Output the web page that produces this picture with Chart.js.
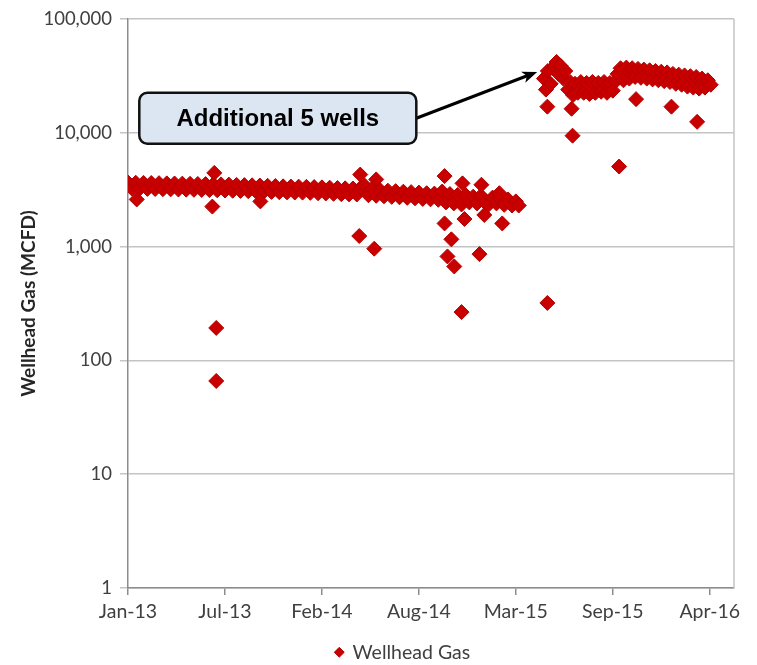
<!DOCTYPE html>
<html>
<head>
<meta charset="utf-8">
<title>Wellhead Gas</title>
<script src="https://cdn.jsdelivr.net/npm/chart.js@4.4.1/dist/chart.umd.min.js"></script>
<style>
  html, body { margin: 0; padding: 0; background: #ffffff; }
  #wrap { width: 757px; height: 665px; position: relative; }
</style>
</head>
<body>
<div id="wrap"><canvas id="gasChart"></canvas></div>
<script>
// x values are days since 1 Jan 2013
const tickDays = [0, 200, 400, 600, 800, 1000, 1200];
const tickLabels = ['Jan-13', 'Jul-13', 'Feb-14', 'Aug-14', 'Mar-15', 'Sep-15', 'Apr-16'];
const yTicks = [1, 10, 100, 1000, 10000, 100000];

// original wells, Jan 2013 - Mar 2015
const earlyDays = [
    0, 8, 16, 24, 32, 40, 48, 56, 64, 72, 80, 88, 96, 104, 112, 120, 128, 136, 144, 152,
    160, 168, 176, 184, 192, 200, 208, 216, 224, 232, 240, 248, 256, 264, 272, 280, 288, 296, 304, 312,
    320, 328, 336, 344, 352, 360, 368, 376, 384, 392, 400, 408, 416, 424, 432, 440, 448, 456, 464, 472,
    480, 488, 496, 504, 512, 520, 528, 536, 544, 552, 560, 568, 576, 584, 592, 600, 608, 616, 624, 632,
    640, 648, 656, 664, 672, 680, 688, 696, 704, 712, 720, 728, 736, 744, 752, 760, 768, 776, 784, 792,
    800, 806
];
const earlyGas = [
    3660, 3240, 3645, 3230, 3635, 3220, 3625, 3210, 3615, 3200, 3600, 3190, 3590, 3180, 3580, 3170, 3565, 3160, 3555, 3150,
    3545, 3140, 3535, 3130, 3525, 3115, 3510, 3100, 3490, 3090, 3475, 3075, 3460, 3060, 3445, 3045, 3425, 3030, 3410, 3015,
    3390, 3000, 3375, 2990, 3370, 2985, 3355, 2970, 3340, 2950, 3320, 2935, 3300, 2915, 3275, 2895, 3255, 2880, 3245, 2875,
    3300, 3450, 2830, 3250, 2800, 3140, 2770, 3105, 2740, 3075, 2715, 3040, 2685, 3015, 2660, 2985, 2630, 2950, 2605, 2925,
    2580, 3050, 2450, 2900, 2400, 2850, 2350, 2850, 2450, 2750, 2400, 2800, 2450, 2350, 2700, 2400, 2650, 2330, 2600, 2300,
    2500, 2300
];

// after the additional 5 wells
const laterDays = [
    858, 862, 866, 872, 878, 884, 888, 892, 898, 902, 908, 912, 918, 922, 928, 934, 940, 946, 952, 958,
    964, 970, 976, 982, 988, 994, 1000, 1006, 1010, 1016, 1022, 1028, 1034, 1040, 1046, 1052, 1058, 1064, 1070, 1076,
    1082, 1088, 1094, 1100, 1106, 1112, 1118, 1124, 1130, 1136, 1142, 1148, 1154, 1160, 1166, 1172, 1178, 1184, 1190, 1196,
    1202
];
const laterGas = [
    30000, 24000, 35000, 27000, 38000, 42000, 33000, 39000, 30000, 35000, 24000, 28000, 21500, 27000, 22500, 28000, 22500, 27500, 22000, 28000,
    22500, 27500, 23000, 28000, 22500, 27500, 23500, 28500, 33000, 37000, 29000, 37500, 30000, 37000, 31000, 36500, 30500, 36000, 30000, 35500,
    29500, 35000, 29000, 34500, 28500, 34000, 28000, 33000, 27000, 32500, 26500, 32000, 25500, 31500, 25000, 31000, 24500, 30000, 25000, 29000,
    26500
];

// scattered low / high readings
const outlierDays = [18, 174, 178, 182, 182, 273, 477, 479, 508, 512, 653, 653, 659, 667, 673, 688, 690, 694, 725, 729, 735, 766, 772,
    865, 865, 915, 917, 1013, 1048, 1121, 1174];
const outlierGas = [2600, 2250, 4450, 193, 66, 2500, 1240, 4300, 960, 3900, 4170, 1600, 820, 1160, 670, 266, 3600, 1750, 860, 3500, 1900, 2950, 1600,
    17000, 320, 16300, 9450, 5060, 19800, 17000, 12500];

const noteText = 'Additional 5 wells';
const noteBox = { day: 309, gas: 13450 };
const noteArrowTip = { day: 844, gas: 34350 };

const allDays = earlyDays.concat(laterDays, outlierDays);
const allGas = earlyGas.concat(laterGas, outlierGas);

const textColor = '#404040';

const plotExtras = {
    id: 'plotExtras',
    afterLayout(chart) {
        // legend sits a bit right of and below where Chart.js puts it
        const lg = chart.legend;
        lg.left += 36;
        lg.right += 36;
        lg.top += 7;
        lg.bottom += 7;
    },
    beforeDatasetsDraw(chart) {
        const { ctx, chartArea } = chart;
        ctx.save();
        ctx.strokeStyle = '#c4c4c4';
        ctx.lineWidth = 1.5;
        ctx.beginPath();
        ctx.moveTo(chartArea.right, chartArea.top);
        ctx.lineTo(chartArea.right, chartArea.bottom);
        ctx.stroke();
        ctx.restore();
    },
    afterDraw(chart) {
        const { ctx, scales } = chart;
        const cx = scales.x.getPixelForValue(noteBox.day);
        const cy = scales.y.getPixelForValue(noteBox.gas);
        const w = 277, h = 51;
        const left = cx - w / 2, top = cy - h / 2;

        // arrow
        const tx = scales.x.getPixelForValue(noteArrowTip.day);
        const ty = scales.y.getPixelForValue(noteArrowTip.gas);
        const sx = left + w, sy = cy;
        const ang = Math.atan2(ty - sy, tx - sx);
        const c = Math.cos(ang), s = Math.sin(ang);
        ctx.save();
        ctx.strokeStyle = '#000';
        ctx.fillStyle = '#000';
        ctx.lineWidth = 3;
        ctx.beginPath();
        ctx.moveTo(sx, sy);
        ctx.lineTo(tx - 10 * c, ty - 10 * s);
        ctx.stroke();
        ctx.beginPath();
        ctx.moveTo(tx, ty);
        ctx.lineTo(tx - 15 * c + 6 * s, ty - 15 * s - 6 * c);
        ctx.lineTo(tx - 11 * c, ty - 11 * s);
        ctx.lineTo(tx - 15 * c - 6 * s, ty - 15 * s + 6 * c);
        ctx.closePath();
        ctx.fill();

        // box
        ctx.beginPath();
        ctx.roundRect(left, top, w, h, 8);
        ctx.fillStyle = '#dce6f2';
        ctx.fill();
        ctx.lineWidth = 2.5;
        ctx.strokeStyle = '#111';
        ctx.stroke();

        ctx.fillStyle = '#000';
        ctx.font = 'bold 24px "Liberation Sans", Arial, sans-serif';
        ctx.textAlign = 'center';
        ctx.textBaseline = 'middle';
        ctx.fillText(noteText, cx, cy + 1);
        ctx.restore();
    }
};

function renderChart() {
    const el = document.getElementById('gasChart');
    new Chart(el, {
        type: 'scatter',
        data: {
            datasets: [{
                label: 'Wellhead Gas',
                data: allDays.map((d, i) => ({ x: d, y: allGas[i] })),
                pointStyle: 'rectRot',
                pointRadius: 7.5,
                pointHoverRadius: 7.5,
                backgroundColor: '#c80000',
                borderColor: '#b40000',
                borderWidth: 1
            }]
        },
        options: {
            responsive: true,
            maintainAspectRatio: false,
            animation: false,
            layout: { padding: { top: 17, right: 23, bottom: 0, left: 0 } },
            plugins: {
                tooltip: { enabled: false },
                legend: {
                    position: 'bottom',
                    labels: {
                        usePointStyle: true,
                        boxWidth: 7,
                        boxHeight: 7,
                        padding: 3,
                        color: textColor,
                        font: { family: 'Lato', size: 19.5 }
                    }
                }
            },
            scales: {
                x: {
                    type: 'linear',
                    min: 0,
                    max: 1250,
                    afterBuildTicks: s => { s.ticks = tickDays.map(v => ({ value: v })); },
                    afterFit: s => { s.height = 44.5; },
                    ticks: {
                        autoSkip: false,
                        maxRotation: 0,
                        padding: 5,
                        color: textColor,
                        font: { family: 'Lato', size: 19.5 },
                        callback: (v, i) => tickLabels[i]
                    },
                    grid: { drawOnChartArea: false, tickLength: 7, color: '#8c8c8c', lineWidth: 1.5 },
                    border: { color: '#8c8c8c', width: 1.5 }
                },
                y: {
                    type: 'logarithmic',
                    min: 1,
                    max: 100000,
                    afterBuildTicks: s => { s.ticks = yTicks.map(v => ({ value: v })); },
                    afterFit: s => { s.width = 128; },
                    ticks: {
                        padding: 8,
                        color: textColor,
                        font: { family: 'Lato', size: 18.5 },
                        callback: v => v.toLocaleString('en-US')
                    },
                    grid: { color: '#c4c4c4', lineWidth: 1.5, tickLength: 8 },
                    border: { color: '#8c8c8c', width: 1.5 },
                    title: {
                        display: true,
                        text: 'Wellhead Gas (MCFD)',
                        color: '#262626',
                        font: { family: 'Lato', size: 19, weight: 'bold' },
                        padding: { top: 17, bottom: 0 }
                    }
                }
            }
        },
        plugins: [plotExtras]
    });
}

document.addEventListener('DOMContentLoaded', renderChart);
</script>
</body>
</html>
